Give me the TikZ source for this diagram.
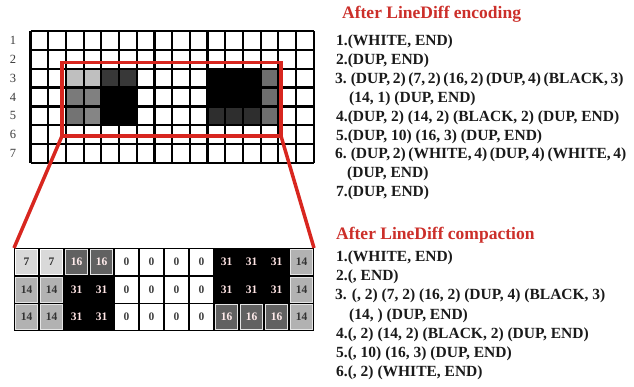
\documentclass[tikz,border=0pt]{standalone}
\usepackage{fontspec}
\setmainfont{Liberation Serif}
\definecolor{redc}{HTML}{D8261F}
\definecolor{headc}{HTML}{CC2F2A}
\definecolor{txtc}{HTML}{1A1A1A}
\newcommand{\tightsp}{\spaceskip=0.17em plus 0.05em\relax}
\tikzset{
  body/.style={anchor=base west, inner sep=0, text=txtc, font=\bfseries\fontsize{15.5}{18}\selectfont},
  head/.style={anchor=base west, inner sep=0, text=headc, font=\bfseries\fontsize{17.5}{20}\selectfont},
  rowlab/.style={inner sep=0, text=txtc!85, font=\fontsize{12.5}{14}\selectfont},
  cellbase/.style={inner sep=0, outer sep=0, minimum width=22.2, minimum height=24.9, font=\bfseries\fontsize{11.5}{13}\selectfont},
  v7/.style={cellbase, fill=black!15, draw=white, line width=0.8, text=black!80},
  v14/.style={cellbase, fill=black!30, draw=white!90!black, line width=0.8, text=black!80},
  v16/.style={cellbase, fill=black!62, draw=white!90!black, line width=0.8, text=red!8!white},
  v0/.style={cellbase, fill=white, draw=white, line width=0.8, text=black!75},
  v31/.style={cellbase, text=red!10!white},
  redline/.style={draw=redc, line width=3.5},
}
\begin{document}
\begin{tikzpicture}[x=1pt,y=-1pt]
\useasboundingbox (0,0) rectangle (634,387);
\fill[white] (0,0) rectangle (634,387);
% ---------- top grid ----------
\def\gx{30.5}\def\gy{31}\def\dx{17.7}\def\dy{18.86}
\foreach \c/\r/\col in {3/3/black!25,4/3/black!25,5/3/black!78,6/3/black!78,
  11/3/black,12/3/black,13/3/black,14/3/black!57,
  3/4/black!52,4/4/black!50,5/4/black,6/4/black,11/4/black,12/4/black,13/4/black,14/4/black!57,
  3/5/black!55,4/5/black!48,5/5/black,6/5/black,11/5/black!82,12/5/black!82,13/5/black!82,14/5/black!57}{
  \fill[\col] ({\gx+(\c-1)*\dx},{\gy+(\r-1)*\dy}) rectangle ({\gx+\c*\dx},{\gy+\r*\dy});
}
\foreach \i in {0,...,16}{
  \draw[line width=2.2] ({\gx+\i*\dx},\gy) -- ({\gx+\i*\dx},{\gy+7*\dy});
}
\foreach \j in {0,...,7}{
  \draw[line width=2.2] (\gx,{\gy+\j*\dy}) -- ({\gx+16*\dx},{\gy+\j*\dy});
}
\foreach \r in {1,...,7}{
  \node[rowlab] (lab\r) at (13,{\gy+(\r-0.5)*\dy}) {\r};
}
% ---------- red zoom frame ----------
\node[redline, inner sep=0, outer sep=0, minimum width=219, minimum height=73.5] (zoom) at (171.5,99.25) {};
% ---------- bottom table ----------
\node[fill=black, inner sep=0, outer sep=0, minimum width=300, minimum height=83] (tbl) at (164,289.5) {};
\foreach \v [count=\i from 0] in {7,7,16,16,0,0,0,0,31,31,31,14,
                                 14,14,31,31,0,0,0,0,31,31,31,14,
                                 14,14,31,31,0,0,0,0,16,16,16,14}{
  \pgfmathtruncatemacro{\cc}{mod(\i,12)}
  \pgfmathtruncatemacro{\rr}{div(\i,12)}
  \node[v\v] (t\i) at ({14+12.5+\cc*25},{248+13.83+\rr*27.67}) {\v};
}
\draw[redline] (zoom.south west) -- (tbl.north west);
\draw[redline] (zoom.south east) -- (tbl.north east);
% ---------- right text ----------
\node[head] (h1) at (342,19) {After LineDiff encoding};
\node[body] (a1) at (336,45.5) {1.(WHITE, END)};
\node[body] (a2) at (336,64.5) {2.(DUP, END)};
\node[body] (a3) at (335,83.4) {\tightsp 3. (DUP, 2) (7, 2) (16, 2) (DUP, 4) (BLACK, 3)};
\node[body] (a3b) at (349,102.3) {(14, 1) (DUP, END)};
\node[body] (a4) at (336,121.2) {4.(DUP, 2) (14, 2) (BLACK, 2) (DUP, END)};
\node[body] (a5) at (336,140.1) {5.(DUP, 10) (16, 3) (DUP, END)};
\node[body] (a6) at (335,159) {\tightsp 6. (DUP, 2) (WHITE, 4) (DUP, 4) (WHITE, 4)};
\node[body] (a6b) at (347,177.9) {(DUP, END)};
\node[body] (a7) at (336,196.8) {7.(DUP, END)};
\node[head] (h2) at (336,240) {After LineDiff compaction};
\node[body] (b1) at (336,261.7) {1.(WHITE, END)};
\node[body] (b2) at (336,280.8) {2.(, END)};
\node[body] (b3) at (335,299.9) {3. (, 2) (7, 2) (16, 2) (DUP, 4) (BLACK, 3)};
\node[body] (b3b) at (349,319) {(14, ) (DUP, END)};
\node[body] (b4) at (336,338.1) {4.(, 2) (14, 2) (BLACK, 2) (DUP, END)};
\node[body] (b5) at (336,357.2) {5.(, 10) (16, 3) (DUP, END)};
\node[body] (b6) at (336,376.3) {6.(, 2) (WHITE, END)};
\end{tikzpicture}
\end{document}
